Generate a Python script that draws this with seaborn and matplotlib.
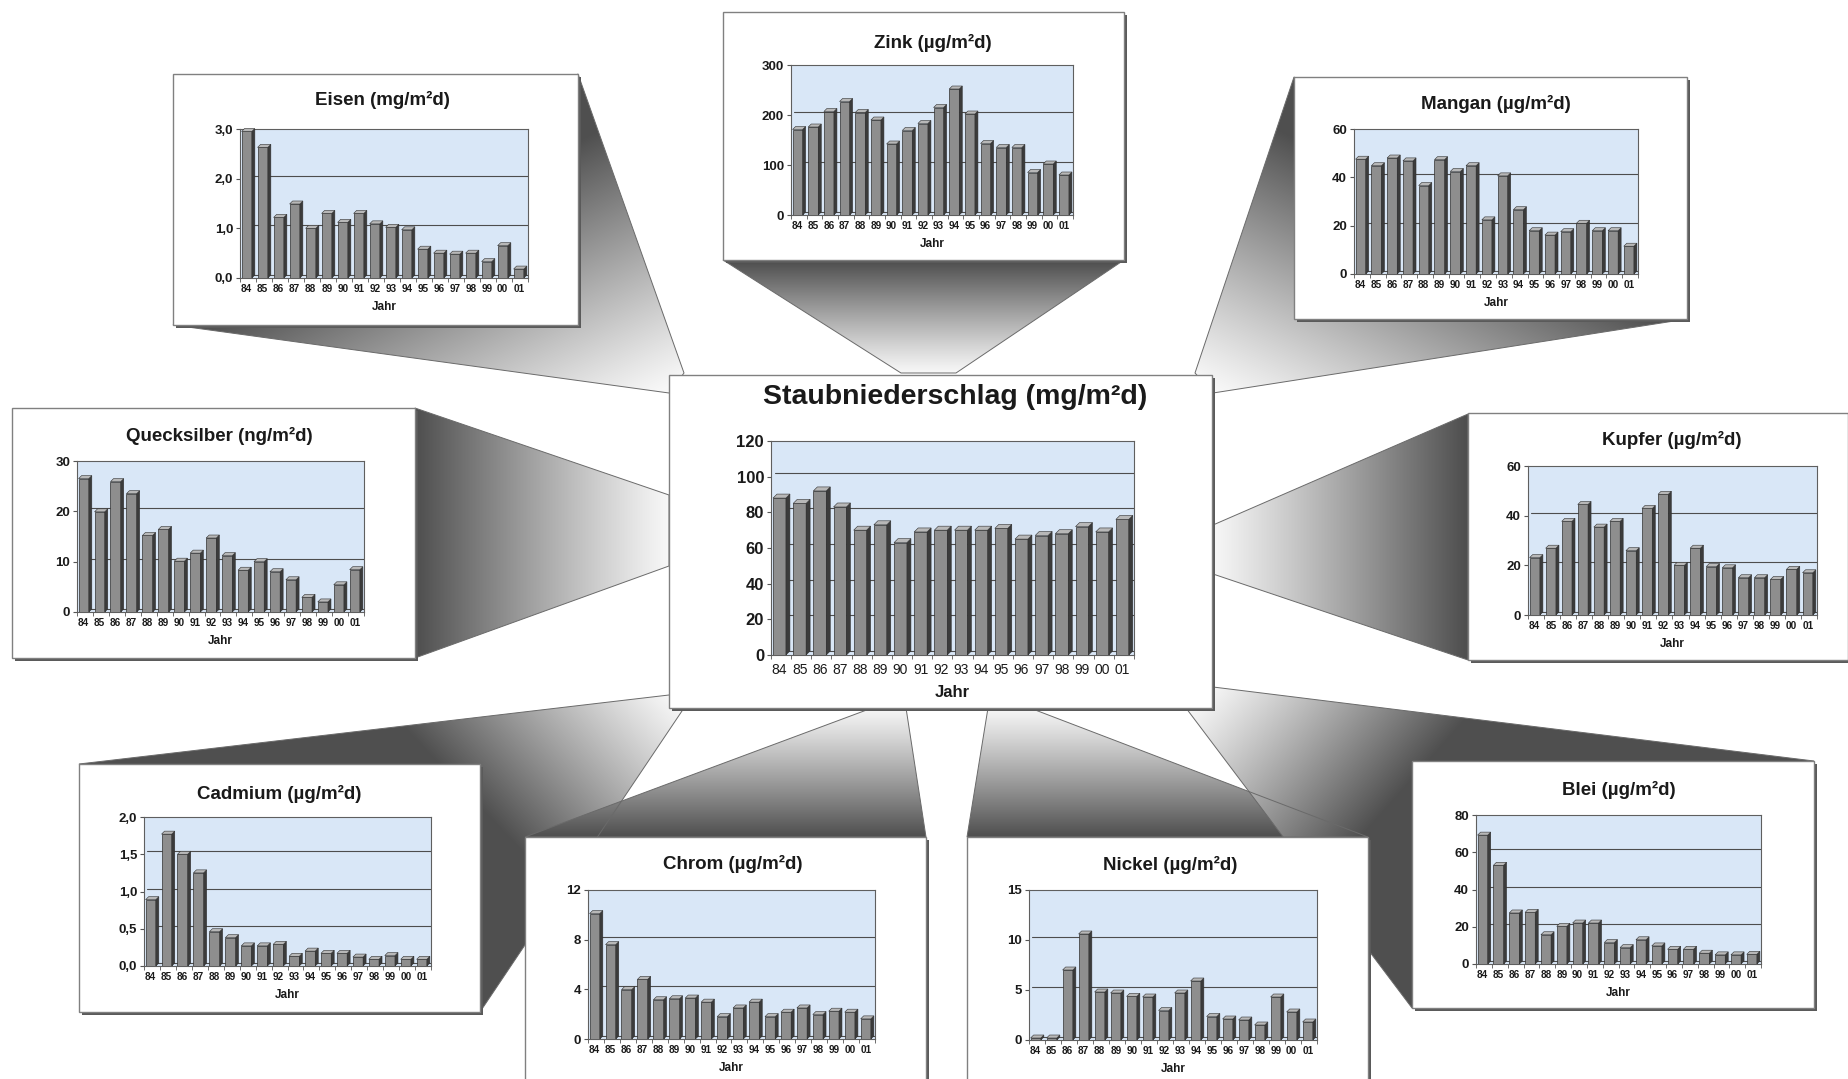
import numpy as np
import pandas as pd
import matplotlib
matplotlib.use("Agg")
import matplotlib.pyplot as plt
from matplotlib.patches import Polygon, Rectangle
from matplotlib.transforms import offset_copy
import seaborn as sns

# ---------------------------------------------------------------- data
jahre = ["84", "85", "86", "87", "88", "89", "90", "91", "92",
         "93", "94", "95", "96", "97", "98", "99", "00", "01"]

staub = [88, 85, 92, 83, 70, 73, 63, 69, 70, 70, 70, 71, 65, 67, 68, 72, 69, 76]
eisen = [2.95, 2.63, 1.22, 1.49, 1.0, 1.3, 1.12, 1.3, 1.09, 1.02, 0.97,
         0.58, 0.5, 0.48, 0.5, 0.33, 0.65, 0.18]
zink = [171, 176, 207, 227, 205, 190, 142, 169, 183, 215, 252, 202,
        143, 135, 135, 85, 102, 80]
mangan = [47.5, 44.8, 48, 46.8, 36.6, 47.3, 42.4, 44.8, 22.4, 40.6, 26.6,
          17.9, 16.1, 17.5, 21, 17.9, 17.9, 11.5]
quecksilber = [26.5, 19.9, 25.9, 23.5, 15.2, 16.4, 10.1, 11.7, 14.7, 11.2,
               8.3, 10, 8, 6.4, 2.9, 2.0, 5.4, 8.4]
kupfer = [23.1, 26.9, 37.7, 44.5, 35.4, 37.7, 25.9, 42.9, 48.6, 20, 26.9,
          19.5, 19, 15, 15, 14.3, 18.4, 17]
cadmium = [0.89, 1.77, 1.5, 1.25, 0.46, 0.38, 0.27, 0.27, 0.29, 0.13, 0.2,
           0.17, 0.17, 0.12, 0.09, 0.14, 0.09, 0.09]
chrom = [10.1, 7.6, 3.97, 4.8, 3.16, 3.24, 3.3, 2.97, 1.8, 2.5, 2.97,
         1.8, 2.16, 2.5, 1.97, 2.24, 2.16, 1.62]
nickel = [0.2, 0.2, 7.0, 10.6, 4.8, 4.7, 4.36, 4.3, 2.95, 4.7, 5.9,
          2.35, 2.1, 2.0, 1.5, 4.3, 2.8, 1.8]
blei = [69.2, 53, 27.4, 27.7, 15.7, 20.2, 22, 22, 11.5, 8.8, 13, 9.7,
        7.9, 7.9, 5.8, 4.9, 4.9, 5.2]

titel = {
    "staub": "Staubniederschlag (mg/m²d)",
    "eisen": "Eisen (mg/m²d)",
    "zink": "Zink (µg/m²d)",
    "mangan": "Mangan (µg/m²d)",
    "quecksilber": "Quecksilber (ng/m²d)",
    "kupfer": "Kupfer (µg/m²d)",
    "cadmium": "Cadmium (µg/m²d)",
    "chrom": "Chrom (µg/m²d)",
    "nickel": "Nickel (µg/m²d)",
    "blei": "Blei (µg/m²d)",
}

y_ticks = {
    "staub": [0, 20, 40, 60, 80, 100, 120],
    "eisen": [0, 1, 2, 3],
    "zink": [0, 100, 200, 300],
    "mangan": [0, 20, 40, 60],
    "quecksilber": [0, 10, 20, 30],
    "kupfer": [0, 20, 40, 60],
    "cadmium": [0, 0.5, 1.0, 1.5, 2.0],
    "chrom": [0, 4, 8, 12],
    "nickel": [0, 5, 10, 15],
    "blei": [0, 20, 40, 60, 80],
}
y_ticklabels = {
    "eisen": ["0,0", "1,0", "2,0", "3,0"],
    "cadmium": ["0,0", "0,5", "1,0", "1,5", "2,0"],
}

werte = {
    "staub": staub, "eisen": eisen, "zink": zink, "mangan": mangan,
    "quecksilber": quecksilber, "kupfer": kupfer, "cadmium": cadmium,
    "chrom": chrom, "nickel": nickel, "blei": blei,
}

# ---------------------------------------------------------------- layout (pixels)
W, H, DPI = 1849, 1079, 100

# box (x0, y0, x1, y1), plot area (left, top, right, bottom), title centre
layout = {
    "eisen":       ((173, 74, 578, 325),    (240, 129, 528, 278),   (382, 100)),
    "zink":        ((723, 12, 1124, 260),   (791, 65, 1073, 215),   (933, 43)),
    "mangan":      ((1294, 77, 1687, 319),  (1354, 129, 1638, 274), (1496, 104)),
    "quecksilber": ((12, 408, 415, 658),    (77, 461, 364, 612),    (219, 436)),
    "kupfer":      ((1468, 413, 1848, 660), (1528, 466, 1817, 615), (1672, 440)),
    "cadmium":     ((79, 764, 480, 1012),   (144, 817, 431, 966),   (279, 794)),
    "chrom":       ((525, 837, 926, 1110),  (588, 890, 875, 1039),  (733, 864)),
    "nickel":      ((967, 837, 1368, 1110), (1029, 890, 1317, 1040), (1170, 865)),
    "blei":        ((1412, 761, 1814, 1008), (1476, 815, 1761, 964), (1619, 790)),
    "staub":       ((669, 375, 1212, 708),  (771, 441, 1134, 655),  (955, 397)),
}

# connecting wedges: polygon, light end, dark end
wedges = [
    ([(578, 74), (684, 373), (669, 393), (173, 325)], (676, 383), (560, 150)),
    ([(723, 260), (1124, 260), (956, 373), (901, 373)], (928, 373), (928, 262)),
    ([(1294, 77), (1195, 373), (1213, 393), (1687, 319)], (1204, 383), (1320, 150)),
    ([(415, 408), (669, 495), (669, 566), (415, 658)], (669, 530), (417, 530)),
    ([(1468, 414), (1213, 525), (1213, 574), (1468, 660)], (1213, 550), (1466, 550)),
    ([(79, 764), (669, 695), (684, 708), (480, 1012)], (676, 702), (520, 850)),
    ([(525, 837), (872, 708), (906, 708), (926, 837)], (889, 708), (889, 837)),
    ([(967, 837), (988, 708), (1030, 708), (1368, 837)], (1009, 708), (1009, 837)),
    ([(1213, 687), (1814, 761), (1412, 1008), (1186, 708)], (1200, 698), (1360, 840)),
]

FRONT = "#8e8e8e"
SIDE = "#3b3b3b"
TOP = "#b8b8b8"
EDGE = "#2f2f2f"
WALL = "#d9e7f7"
GRID = "#4d4d4d"
TXT = "#1a1a1a"

sns.set_theme(style="white")
plt.rcParams["font.family"] = ["Liberation Sans", "DejaVu Sans"]

fig = plt.figure(figsize=(W / DPI, H / DPI), dpi=DPI)
fig.patch.set_facecolor("white")

bg = fig.add_axes([0, 0, 1, 1])
bg.set_xlim(0, W)
bg.set_ylim(H, 0)
bg.axis("off")

# ---------------------------------------------------------------- wedges
yy, xx = np.mgrid[0:H:2, 0:W:2].astype(float) + 1.0
for poly, light, dark in wedges:
    vx, vy = dark[0] - light[0], dark[1] - light[1]
    t = ((xx - light[0]) * vx + (yy - light[1]) * vy) / (vx * vx + vy * vy)
    t = np.clip(t, 0, 1)
    g = 0.97 - 0.66 * t ** 1.1
    img = np.dstack([g, g, g])
    patch = Polygon(poly, closed=True, facecolor="none", edgecolor="#6a6a6a",
                    lw=0.7, zorder=2)
    bg.add_patch(patch)
    im = bg.imshow(img, extent=(0, W, H, 0), interpolation="bilinear",
                   aspect="auto", zorder=1)
    im.set_clip_path(patch)
bg.set_xlim(0, W)
bg.set_ylim(H, 0)


def px_axes(rect):
    l, t, r, b = rect
    return [l / W, 1 - b / H, (r - l) / W, (b - t) / H]


def bar_chart(key):
    box, area, tpos = layout[key]
    big = key == "staub"
    x0, y0, x1, y1 = box

    # frame with a soft drop shadow
    bg.add_patch(Rectangle((x0 + 3, y0 + 3), x1 - x0, y1 - y0,
                           facecolor="#5a5a5a", edgecolor="none", zorder=3))
    bg.add_patch(Rectangle((x0, y0), x1 - x0, y1 - y0, facecolor="white",
                           edgecolor="#808080", lw=1.0, zorder=4))
    bg.text(tpos[0], tpos[1], titel[key], ha="center", va="center",
            fontsize=20.5 if big else 13.5, fontweight="bold", color=TXT,
            zorder=5)

    ax = fig.add_axes(px_axes(area))
    df = pd.DataFrame({"Jahr": jahre, "Wert": werte[key]})
    sns.barplot(data=df, x="Jahr", y="Wert", ax=ax, color=FRONT,
                saturation=1, width=0.64, edgecolor=EDGE, linewidth=0.5,
                errorbar=None, zorder=3)
    n = len(jahre)
    ticks = y_ticks[key]
    ymax = ticks[-1]
    ax.set_xlim(-0.42, n - 0.42)
    ax.set_ylim(0, ymax)
    ax.set_facecolor(WALL)

    depth = 4.0 if big else 3.0
    w_px = area[2] - area[0]
    h_px = area[3] - area[1]
    dx = depth * n / w_px
    dy = depth * ymax / h_px

    # back-wall grid lines, shifted by the bar depth
    back = offset_copy(ax.transData, fig=fig, x=depth, y=depth, units="dots")
    for tv in ticks[:-1]:
        ax.plot([-0.42, n], [tv, tv], color=GRID, lw=0.8, transform=back,
                zorder=1)

    # side and top faces give the bars their depth
    for p in list(ax.patches):
        bx, bw, bh = p.get_x(), p.get_width(), p.get_height()
        ax.add_patch(Polygon([(bx + bw, 0), (bx + bw + dx, dy),
                              (bx + bw + dx, bh + dy), (bx + bw, bh)],
                             closed=True, facecolor=SIDE, edgecolor=EDGE,
                             lw=0.4, zorder=3))
        ax.add_patch(Polygon([(bx, bh), (bx + bw, bh), (bx + bw + dx, bh + dy),
                              (bx + dx, bh + dy)], closed=True, facecolor=TOP,
                             edgecolor=EDGE, lw=0.4, zorder=3, clip_on=False))

    ax.set_yticks(ticks)
    labels = y_ticklabels.get(key, [str(v) for v in ticks])
    ax.set_yticklabels(labels, fontsize=12 if big else 9.5,
                       fontweight="bold", color=TXT)
    ax.set_xticks(range(n))
    ax.set_xticklabels(jahre, fontsize=10 if big else 7.2,
                       fontweight="normal" if big else "bold", color=TXT)
    ax.set_xticks(np.arange(n + 1) - 0.42, minor=True)
    ax.tick_params(axis="y", which="major", length=3, width=0.8,
                   color="#555555", pad=2, left=True)
    ax.tick_params(axis="x", which="major", length=0,
                   pad=5.5 if big else 4.5, bottom=False)
    ax.tick_params(axis="x", which="minor", length=3, width=0.6,
                   color="#555555", bottom=True)
    ax.set_ylabel("")
    ax.set_xlabel("Jahr", fontsize=12 if big else 8.5, fontweight="bold",
                  color=TXT, labelpad=6 if big else 5)
    for s in ax.spines.values():
        s.set_color("#5f5f5f")
        s.set_linewidth(0.8)
        s.set_visible(True)
    return ax


for key in ["eisen", "zink", "mangan", "quecksilber", "kupfer",
            "cadmium", "chrom", "nickel", "blei", "staub"]:
    bar_chart(key)

fig.savefig("out.png", dpi=DPI)
